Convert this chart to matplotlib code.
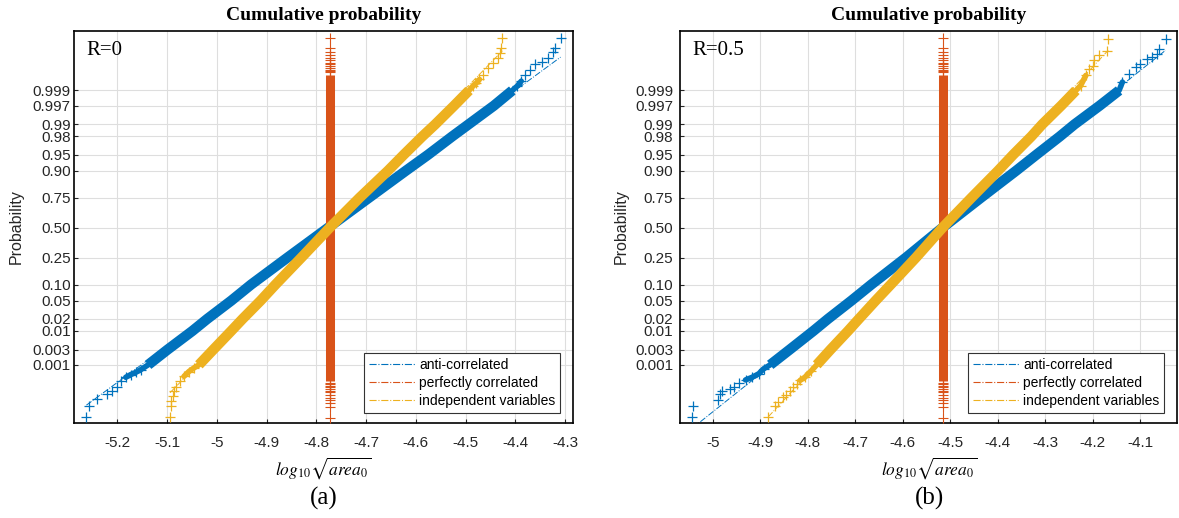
import numpy as np
import matplotlib
matplotlib.use('Agg')
import matplotlib.pyplot as plt
from statistics import NormalDist

plt.rcParams['font.family'] = ['Liberation Sans', 'DejaVu Sans']
plt.rcParams['mathtext.fontset'] = 'stix'

# probability levels at which the curves were read (same as the y ticks)
p_levels = [0.001, 0.003, 0.01, 0.02, 0.05, 0.10, 0.25, 0.50,
            0.75, 0.90, 0.95, 0.98, 0.99, 0.997, 0.999]
p_labels = ['0.001', '0.003', '0.01', '0.02', '0.05', '0.10', '0.25', '0.50',
            '0.75', '0.90', '0.95', '0.98', '0.99', '0.997', '0.999']
series_names = ['anti-correlated', 'perfectly correlated', 'independent variables']

# ---- panel (a), R=0 ----
a_anti_x = [-5.138, -5.099, -5.049, -5.019, -4.971, -4.931, -4.858, -4.776,
            -4.694, -4.620, -4.575, -4.527, -4.494, -4.443, -4.406]
a_indep_x = [-5.036, -5.007, -4.971, -4.948, -4.912, -4.882, -4.830, -4.773,
             -4.713, -4.656, -4.624, -4.587, -4.561, -4.523, -4.493]
a_perf_x = -4.7725
# scattered '+' markers in the tails (x, normal score)
a_anti_tail_x = [-5.153, -5.163, -5.173, -5.183, -5.193, -5.201, -5.210, -5.220, -5.240, -5.257, -5.262,
                 -4.396, -4.388, -4.381, -4.371, -4.361, -4.347, -4.334, -4.324, -4.321, -4.309]
a_anti_tail_z = [-3.20, -3.26, -3.31, -3.37, -3.46, -3.58, -3.69, -3.74, -3.87, -4.02, -4.26,
                 3.19, 3.30, 3.45, 3.56, 3.68, 3.74, 3.83, 3.96, 4.05, 4.28]
a_indep_tail_x = [-5.046, -5.056, -5.066, -5.074, -5.081, -5.086, -5.088, -5.092, -5.093, -5.094,
                  -4.485, -4.478, -4.472, -4.465, -4.455, -4.445, -4.434, -4.431, -4.428, -4.426]
a_indep_tail_z = [-3.16, -3.24, -3.35, -3.46, -3.58, -3.69, -3.80, -3.91, -4.02, -4.26,
                  3.19, 3.26, 3.34, 3.45, 3.60, 3.71, 3.83, 3.94, 4.05, 4.28]

# ---- panel (b), R=0.5 ----
b_anti_x = [-4.879, -4.838, -4.788, -4.757, -4.708, -4.666, -4.593, -4.516,
            -4.435, -4.361, -4.318, -4.269, -4.238, -4.185, -4.144]
b_indep_x = [-4.781, -4.752, -4.715, -4.692, -4.657, -4.625, -4.572, -4.516,
             -4.455, -4.399, -4.367, -4.329, -4.306, -4.266, -4.235]
b_perf_x = -4.516
b_anti_tail_x = [-4.893, -4.903, -4.917, -4.931, -4.945, -4.956, -4.963, -4.980, -4.984, -4.990, -5.041, -5.043,
                 -4.137, -4.123, -4.109, -4.099, -4.085, -4.074, -4.064, -4.059, -4.046]
b_anti_tail_z = [-3.18, -3.29, -3.37, -3.43, -3.50, -3.59, -3.63, -3.67, -3.74, -3.89, -4.01, -4.27,
                 3.28, 3.47, 3.62, 3.69, 3.79, 3.84, 3.92, 4.03, 4.25]
b_indep_tail_x = [-4.792, -4.806, -4.816, -4.823, -4.830, -4.837, -4.845, -4.851, -4.862, -4.869, -4.883,
                  -4.225, -4.214, -4.207, -4.200, -4.197, -4.186, -4.169, -4.167]
b_indep_tail_z = [-3.22, -3.37, -3.44, -3.52, -3.59, -3.67, -3.76, -3.82, -3.93, -4.01, -4.27,
                  3.20, 3.43, 3.58, 3.65, 3.77, 3.88, 3.99, 4.25]

# perfectly correlated: dense column up to |z|=3.45, then single markers
perf_core_z = 3.45
perf_tail_z = [3.50, 3.53, 3.56, 3.60, 3.64, 3.68, 3.71, 3.77, 3.83, 3.89, 3.96, 4.05, 4.28]

a_xticks = [-5.2, -5.1, -5.0, -4.9, -4.8, -4.7, -4.6, -4.5, -4.4, -4.3]
a_xlabels = ['-5.2', '-5.1', '-5', '-4.9', '-4.8', '-4.7', '-4.6', '-4.5', '-4.4', '-4.3']
b_xticks = [-5.0, -4.9, -4.8, -4.7, -4.6, -4.5, -4.4, -4.3, -4.2, -4.1]
b_xlabels = ['-5', '-4.9', '-4.8', '-4.7', '-4.6', '-4.5', '-4.4', '-4.3', '-4.2', '-4.1']

C_BLUE, C_ORANGE, C_YELLOW = '#0072BD', '#D95319', '#EDB120'

ND = NormalDist()
_inv = np.vectorize(ND.inv_cdf, otypes=[float])
_cdf = np.vectorize(ND.cdf, otypes=[float])


def prob_fwd(p):
    p = np.clip(np.asarray(p, dtype=float), 1e-15, 1 - 1e-15)
    return _inv(p)


def prob_inv(z):
    return _cdf(np.asarray(z, dtype=float))


def ref_line(ax, xs, color):
    # normplot style reference line through the quartiles, over the data range
    x25, x75 = xs[p_levels.index(0.25)], xs[p_levels.index(0.75)]
    z25, z75 = ND.inv_cdf(0.25), ND.inv_cdf(0.75)
    slope = (z75 - z25) / (x75 - x25)
    xe = np.array([min(xs), max(xs)])
    ze = z25 + slope * (xe - x25)
    ax.plot(xe, prob_inv(ze), color=color, lw=0.7, ls='-.', zorder=2)


def draw_series(ax, core_x, tail_x, tail_z, color, z):
    ref_line(ax, core_x + tail_x, color)
    ax.plot(core_x, p_levels, color=color, lw=7.4, solid_capstyle='butt', zorder=z)
    tx, tz = np.array(tail_x), np.array(tail_z)
    # dense cluster right after the body of the curve
    for side in (-1, 1):
        m = (np.sign(tz) == side) & (np.abs(tz) < 3.45)
        if m.any():
            end = 0 if side < 0 else -1
            cx = np.concatenate([[core_x[end]], tx[m]])
            cz = np.concatenate([[ND.inv_cdf(p_levels[end])], tz[m]])
            ax.plot(cx, prob_inv(cz), color=color, lw=4, solid_capstyle='round', zorder=z)
    ax.plot(tx, prob_inv(tz), ls='none', marker='+', ms=6.5, mew=0.9, color=color, zorder=z)


def draw_panel(ax, tag, anti_x, anti_tx, anti_tz, perf_x, indep_x, ind_tx, ind_tz,
               xticks, xlabels, xlim, ylab_pad):
    ax.set_yscale('function', functions=(prob_fwd, prob_inv))

    draw_series(ax, anti_x, anti_tx, anti_tz, C_BLUE, 3)

    # perfectly correlated
    pz = np.array(perf_tail_z)
    ax.plot([perf_x, perf_x], prob_inv([-4.26, 4.28]), color=C_ORANGE, lw=0.7, ls='-.', zorder=4)
    ax.plot([perf_x, perf_x], prob_inv([-perf_core_z, perf_core_z]), color=C_ORANGE,
            lw=6.5, solid_capstyle='butt', zorder=4)
    ax.plot(np.full(2 * len(pz), perf_x), prob_inv(np.concatenate([pz, -pz])), ls='none',
            marker='+', ms=6.5, mew=0.8, color=C_ORANGE, zorder=4)

    draw_series(ax, indep_x, ind_tx, ind_tz, C_YELLOW, 5)

    ax.set_xlim(xlim)
    ax.set_ylim(ND.cdf(-4.40), ND.cdf(4.43))
    ax.set_yticks(p_levels)
    ax.set_yticklabels(p_labels)
    ax.yaxis.set_minor_locator(matplotlib.ticker.NullLocator())
    ax.set_xticks(xticks)
    ax.set_xticklabels(xlabels)
    ax.tick_params(direction='in', length=3, width=0.8, labelsize=11, colors='#262626')
    ax.tick_params(axis='x', pad=9.5)
    ax.tick_params(axis='y', pad=ylab_pad)
    ax.grid(True, color='#dedede', lw=0.8, zorder=0)
    ax.set_axisbelow(True)
    for s in ax.spines.values():
        s.set_linewidth(1.2)
        s.set_color('black')

    ax.set_title('Cumulative probability', fontsize=14, fontweight='bold',
                 family='Liberation Serif', pad=8)
    ax.text(0.024, 0.951, tag, transform=ax.transAxes, ha='left', va='center',
            fontsize=15, family='Liberation Serif')

    handles = [plt.Line2D([], [], color=c, lw=0.8, ls='-.') for c in (C_BLUE, C_ORANGE, C_YELLOW)]
    leg = ax.legend(handles, series_names, loc='lower right',
                    bbox_to_anchor=(1 - 13 / 499, 10 / 392), borderaxespad=0,
                    fontsize=10, frameon=True, fancybox=False, framealpha=1,
                    edgecolor='#333333', handlelength=3.3, handletextpad=0.3,
                    labelspacing=0.3, borderpad=0.35)
    leg.get_frame().set_linewidth(0.8)


W, H = 1179, 518
fig = plt.figure(figsize=(W / 100, H / 100), dpi=100)
ax_a = fig.add_axes([74 / W, 1 - 423 / H, 499 / W, 392 / H])
ax_b = fig.add_axes([680 / W, 1 - 423 / H, 497 / W, 392 / H])

draw_panel(ax_a, 'R=0', a_anti_x, a_anti_tail_x, a_anti_tail_z, a_perf_x,
           a_indep_x, a_indep_tail_x, a_indep_tail_z,
           a_xticks, a_xlabels, (-5.287, -4.284), 2.5)
draw_panel(ax_b, 'R=0.5', b_anti_x, b_anti_tail_x, b_anti_tail_z, b_perf_x,
           b_indep_x, b_indep_tail_x, b_indep_tail_z,
           b_xticks, b_xlabels, (-5.069, -4.022), 5)

for cx, lab in ((323.5, '(a)'), (929, '(b)')):
    fig.text(cx / W, 1 - 468 / H, r'$log_{10}\sqrt{area_0}$', ha='center', va='center',
             fontsize=12.5)
    fig.text(cx / W, 1 - 498 / H, lab, ha='center', va='center', fontsize=18,
             family='Liberation Serif')
for cx in (16, 621):
    fig.text(cx / W, 1 - 227 / H, 'Probability', rotation=90, ha='center', va='center',
             fontsize=11.5, color='#262626')

fig.savefig('out.png', dpi=100)
